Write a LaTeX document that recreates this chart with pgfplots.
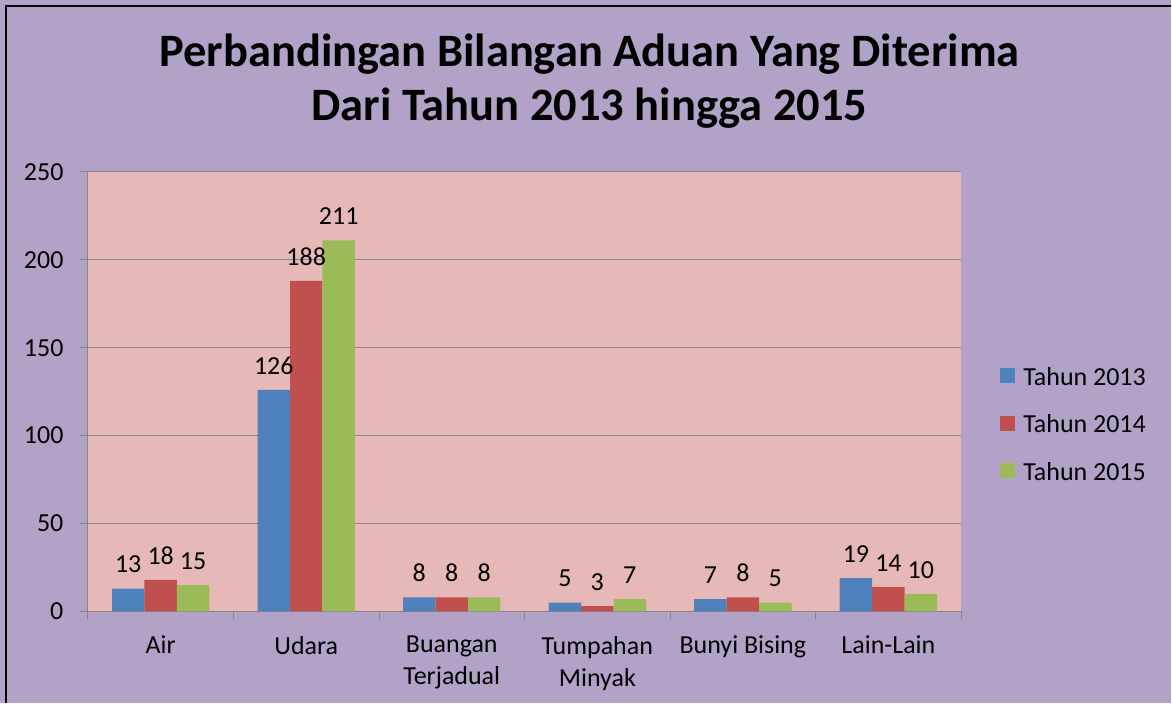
\documentclass[border=0pt]{standalone}
\usepackage{fontspec}
\setmainfont{Carlito}
\usepackage{pgfplots}
\pgfplotsset{compat=1.18}
\definecolor{bg}{HTML}{B3A2C7}
\definecolor{plotbg}{HTML}{E6B9B8}
\definecolor{c1}{HTML}{4F81BD}
\definecolor{c2}{HTML}{C0504D}
\definecolor{c3}{HTML}{9BBB59}
\definecolor{gridc}{HTML}{868686}
\begin{document}
\begin{tikzpicture}[x=1pt,y=1pt]
\fill[bg] (0,0) rectangle (1172,704);
\draw[black,line width=2pt] (6,0) -- (6,698) -- (1172,698);
\node[anchor=base,inner sep=0pt,font=\fontsize{46.5}{52}\selectfont\bfseries] at (590,637) {Perbandingan Bilangan Aduan Yang Diterima};
\node[anchor=base,inner sep=0pt,font=\fontsize{46.5}{52}\selectfont\bfseries] at (590,583) {Dari Tahun 2013 hingga 2015};
\begin{axis}[
  at={(88pt,92pt)}, anchor=south west,
  width=874pt, height=440pt, scale only axis,
  /pgf/number format/assume math mode=true,
  ymin=0, ymax=250, ytick={0,50,...,250},
  xmin=-0.5, xmax=5.5,
  xtick={-0.5,0.5,...,5.5}, xticklabels={},
  extra x ticks={0,1,2,3,4,5},
  extra x tick labels={Air,Udara,Buangan\\Terjadual,Tumpahan\\Minyak,Bunyi Bising,Lain-Lain},
  extra x tick style={major tick length=0pt, tick label style={align=center, yshift=-21pt}},
  yticklabel style={xshift=-13pt},
  axis background/.style={fill=plotbg},
  ymajorgrids, grid style={gridc, line width=1pt},
  axis x line*=bottom, axis y line*=left,
  axis line style={gridc, line width=1pt, -},
  tick style={gridc, line width=1pt},
  major tick length=8pt, tick align=outside,
  tick label style={font=\fontsize{26}{32}\selectfont, black},
  ybar, bar width=0.223,
  nodes near coords,
  every node near coord/.append style={font=\fontsize{26}{30}\selectfont, black, yshift=12pt},
  legend style={at={(1.0446,0.425)}, anchor=west, draw=none, fill=none, inner sep=0pt,
     font=\fontsize{26}{30}\selectfont, row sep=22pt,
     nodes={inner sep=3pt}},
  legend cell align=left,
  legend image code/.code={\fill[#1] (0pt,-6pt) rectangle (15pt,9pt);},
]
\addplot[fill=c1, draw=none, bar shift=-0.223] coordinates {(0,13) (1,126) (2,8) (3,5) (4,7) (5,19)};
\addplot[fill=c2, draw=none, bar shift=0] coordinates {(0,18) (1,188) (2,8) (3,3) (4,8) (5,14)};
\addplot[fill=c3, draw=none, bar shift=0.223] coordinates {(0,15) (1,211) (2,8) (3,7) (4,5) (5,10)};
\legend{\hspace{5pt}Tahun 2013, \hspace{5pt}Tahun 2014, \hspace{5pt}Tahun 2015}
\end{axis}
\end{tikzpicture}
\end{document}
